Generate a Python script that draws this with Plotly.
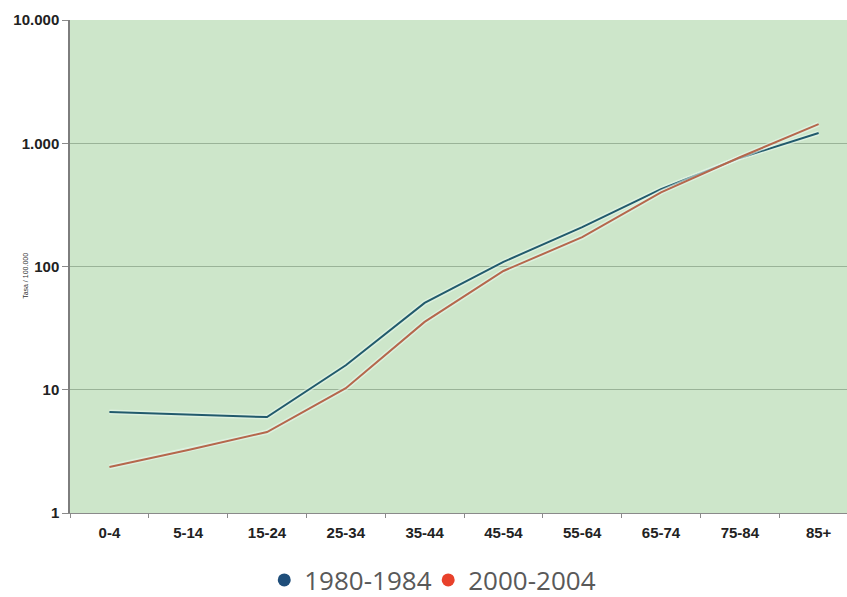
import plotly.graph_objects as go

# Age groups and incidence rates per 100,000 for two periods
age_groups = ["0-4", "5-14", "15-24", "25-34", "35-44", "45-54", "55-64", "65-74", "75-84", "85+"]
rate_1980_1984 = [6.6, 6.3, 6.0, 15.8, 50.6, 109, 209, 425, 760, 1210]
rate_2000_2004 = [2.36, 3.24, 4.54, 10.3, 35.5, 92, 173, 400, 770, 1430]

y_tickvals = [1, 10, 100, 1000, 10000]
y_ticktext = ["1", "10", "100", "1.000", "10.000"]

blue = "#215a6c"
red = "#b5674c"

fig = go.Figure()

for vals, col in [(rate_1980_1984, blue), (rate_2000_2004, red)]:
    # soft light halo beneath each line
    fig.add_trace(go.Scatter(x=age_groups, y=vals, mode="lines",
                             line=dict(color="rgba(235,250,240,0.55)", width=5),
                             showlegend=False, hoverinfo="skip"))
    fig.add_trace(go.Scatter(x=age_groups, y=vals, mode="lines",
                             line=dict(color=col, width=2),
                             showlegend=False))

# legend entries drawn as dots, one legend box per period
fig.add_trace(go.Scatter(x=[None], y=[None], mode="markers", name="1980-1984",
                         marker=dict(color="#1f4e7a", size=13), legend="legend"))
fig.add_trace(go.Scatter(x=[None], y=[None], mode="markers", name="2000-2004",
                         marker=dict(color="#e8412b", size=13), legend="legend2"))

legend_style = dict(orientation="h", xanchor="left", y=-0.136, yanchor="middle",
                    font=dict(family="Open Sans", size=26, color="#595959"),
                    bgcolor="rgba(0,0,0,0)", itemclick=False)

fig.update_layout(
    width=847, height=597,
    margin=dict(l=70, r=0, t=20, b=84, autoexpand=False),
    paper_bgcolor="white",
    plot_bgcolor="#cde6ca",
    showlegend=True,
    legend=dict(x=0.25, **legend_style),
    legend2=dict(x=0.461, **legend_style),
    annotations=[dict(text="Tasa / 100.000", xref="paper", yref="paper",
                      x=(20 - 70) / 777, y=0.48, textangle=-90, showarrow=False,
                      font=dict(family="Liberation Sans", size=7, color="#333"))],
)

fig.update_xaxes(
    type="category", range=[-0.5, 9.36],
    showgrid=False, showline=True, linecolor="#8a8a8a", linewidth=1,
    ticks="outside", ticklen=4, tickcolor="#8a8a8a", tickson="boundaries",
    tickfont=dict(family="Liberation Sans", size=15, color="#222", weight="bold"),
    ticklabelstandoff=6,
)
fig.update_yaxes(
    type="log", range=[0, 4],
    tickvals=y_tickvals, ticktext=y_ticktext,
    showgrid=True, gridcolor="#9ab398", gridwidth=1,
    showline=True, linecolor="#7d7d7d", linewidth=1.5,
    ticks="outside", ticklen=6, tickcolor="#8a8a8a",
    tickfont=dict(family="Liberation Sans", size=15, color="#222", weight="bold"),
    zeroline=False,
)

fig.write_html("out.html")
